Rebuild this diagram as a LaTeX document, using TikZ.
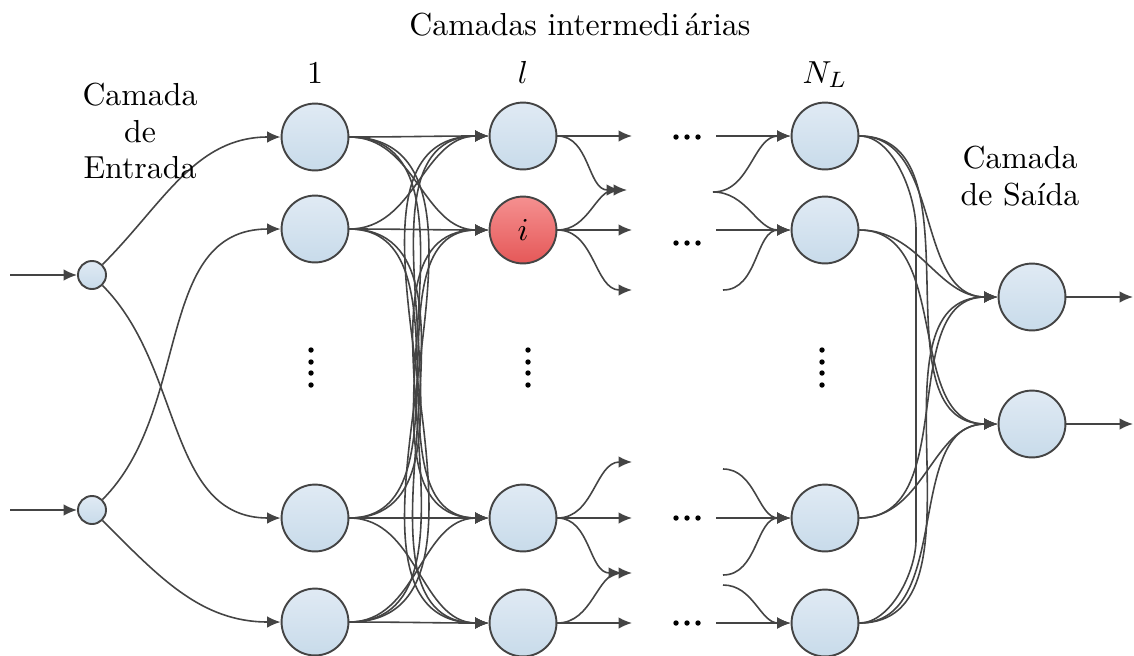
\documentclass[tikz,border=0pt]{standalone}
\usepackage{fontspec}
\usetikzlibrary{arrows.meta}
\definecolor{edgec}{HTML}{444444}
\definecolor{btop}{HTML}{E0EAF4}
\definecolor{bbot}{HTML}{C8DBEA}
\definecolor{rtop}{HTML}{F59090}
\definecolor{rbot}{HTML}{E55858}
\begin{document}
\begin{tikzpicture}[x=0.314pt,y=0.314pt,
  neuron/.style={circle,draw=edgec,line width=0.6pt,minimum size=21pt,inner sep=0pt,top color=btop,bottom color=bbot},
  inneuron/.style={neuron,minimum size=8.8pt},
  redneuron/.style={neuron,top color=rtop,bottom color=rbot},
  conn/.style={draw=edgec,line width=0.5pt},
  arr/.style={conn,-{Latex[length=4.2pt,width=3.6pt]}},
  lbl/.style={font=\fontsize{10}{11.5}\selectfont,align=center,inner sep=0pt}
]
\useasboundingbox (0,0) rectangle (1134,-655);

% nodes
\node[inneuron] (in1) at (92,-275) {};
\node[inneuron] (in2) at (92,-510) {};
\foreach \n/\y in {1/137,2/229,3/518,4/622} \node[neuron] (a\n) at (315,-\y) {};
\foreach \n/\y in {1/136,3/518,4/623} \node[neuron] (b\n) at (523,-\y) {};
\node[redneuron] (b2) at (523,-230) {$i$};
\foreach \n/\y in {1/136,2/230,3/518,4/623} \node[neuron] (c\n) at (825,-\y) {};
\node[neuron] (o1) at (1032,-297) {};
\node[neuron] (o2) at (1032,-424) {};

% input arrows
\coordinate (x1) at (10,-275);
\coordinate (x2) at (10,-510);
\draw[arr] (x1) -- (in1);
\draw[arr] (x2) -- (in2);
\draw[arr] (in1) to[out=45,in=180] (a1.west);
\draw[arr] (in1) to[out=-45,in=180] (a3.west);
\draw[arr] (in2) to[out=45,in=180] (a2.west);
\draw[arr] (in2) to[out=-45,in=180] (a4.west);

% layer 1 -> layer l
\foreach \i in {1,...,4}
  \foreach \j in {1,...,4}
    \draw[arr] (a\i.east) to[out=0,in=180] (b\j.west);

% layer l -> ellipsis
\coordinate (p1) at (632,-136);
\coordinate (p2a) at (620,-190);
\coordinate (p2b) at (627,-190);
\coordinate (p3) at (632,-230);
\coordinate (p4) at (632,-290);
\coordinate (p5) at (632,-462);
\coordinate (p6) at (632,-518);
\coordinate (p7a) at (622,-573);
\coordinate (p7b) at (632,-573);
\coordinate (p8) at (632,-623);
\draw[arr] (b1.east) -- (p1);
\draw[arr] (b1.east) to[out=0,in=180] (p2a);
\draw[arr] (b2.east) to[out=0,in=180] (p2b);
\draw[arr] (b2.east) -- (p3);
\draw[arr] (b2.east) to[out=0,in=180] (p4);
\draw[arr] (b3.east) to[out=0,in=180] (p5);
\draw[arr] (b3.east) -- (p6);
\draw[arr] (b3.east) to[out=0,in=180] (p7a);
\draw[arr] (b4.east) to[out=0,in=180] (p7b);
\draw[arr] (b4.east) -- (p8);

% ellipsis -> layer N_L
\coordinate (q1) at (716,-136);
\coordinate (q2) at (713,-192);
\coordinate (q3) at (716,-230);
\coordinate (q4) at (723,-290);
\coordinate (q5) at (723,-469);
\coordinate (q6) at (716,-518);
\coordinate (q7) at (723,-575);
\coordinate (q8) at (723,-585);
\coordinate (q9) at (716,-623);
\draw[arr] (q1) -- (c1.west);
\draw[arr] (q2) to[out=0,in=180] (c1.west);
\draw[arr] (q2) to[out=0,in=180] (c2.west);
\draw[arr] (q3) -- (c2.west);
\draw[arr] (q4) to[out=0,in=180] (c2.west);
\draw[arr] (q5) to[out=0,in=180] (c3.west);
\draw[arr] (q6) -- (c3.west);
\draw[arr] (q7) to[out=0,in=180] (c3.west);
\draw[arr] (q8) to[out=0,in=180] (c4.west);
\draw[arr] (q9) -- (c4.west);

% layer N_L -> output
\foreach \i in {1,...,4}
  \foreach \j in {1,2}
    \draw[arr] (c\i.east) to[out=0,in=180] (o\j.west);
\coordinate (v1) at (916,-230);
\coordinate (v2) at (916,-540);
\draw[conn] (c1.east) to[out=0,in=90,looseness=0.8] (v1) -- (v2) to[out=-90,in=0,looseness=0.8] (c4.east);

% outputs
\coordinate (y1) at (1133,-297);
\coordinate (y2) at (1133,-424);
\draw[arr] (o1) -- (y1);
\draw[arr] (o2) -- (y2);

% dots
\foreach \x in {676,687,698}
  \foreach \y in {137,243,518,623}
    \fill[black] (\x,-\y) circle (0.85pt);
\foreach \x in {311,528,822}
  \foreach \y in {350,362,373,385}
    \fill[black] (\x,-\y) circle (0.85pt);

% labels
\node[lbl,anchor=base] (t0) at (580,-35) {Camadas intermedi\,árias};
\node[lbl,anchor=base] (t1) at (315,-83) {1};
\node[lbl,anchor=base] (tl) at (523,-83) {$l$};
\node[lbl,anchor=base] (tN) at (825,-83) {$N_L$};
\node[lbl] (tin) at (140,-131) {Camada\\de\\Entrada};
\node[lbl] (tout) at (1020,-176) {Camada\\de Saída};
\end{tikzpicture}
\end{document}
